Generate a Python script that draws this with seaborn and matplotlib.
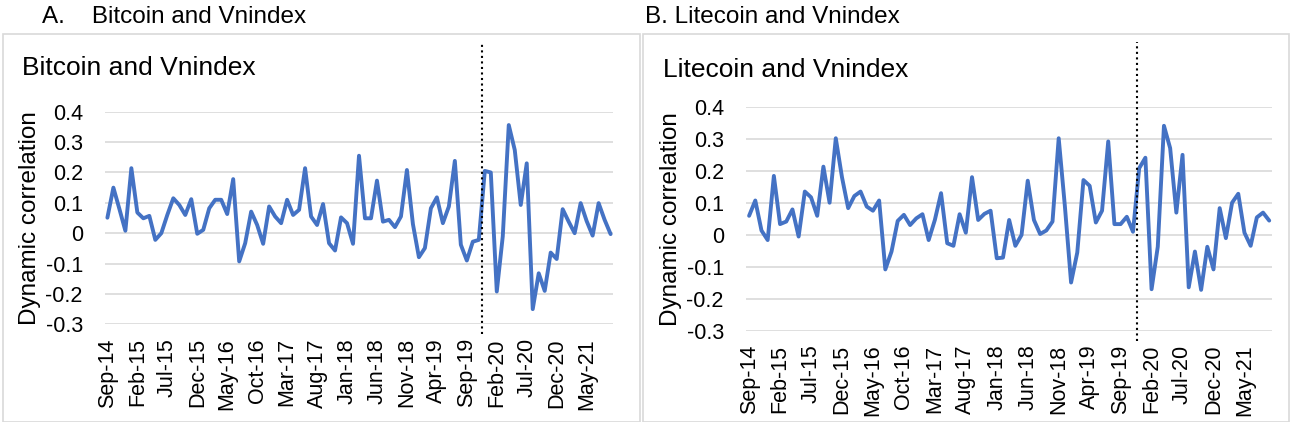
import pandas as pd
import matplotlib.pyplot as plt
import seaborn as sns
from matplotlib.patches import Rectangle

sns.set_theme(style="white")
plt.rcParams['font.family'] = ['Liberation Sans', 'DejaVu Sans']
plt.rcParams.update({"text.color": "black", "axes.labelcolor": "black",
                     "xtick.color": "black", "ytick.color": "black"})

# monthly dynamic correlations, Sep-14 .. Sep-21
btc = [0.051, 0.15, 0.08, 0.008, 0.214, 0.068, 0.049, 0.057, -0.022, 0.0,
       0.06, 0.115, 0.093, 0.06, 0.112, -0.002, 0.011, 0.082, 0.11, 0.11,
       0.063, 0.178, -0.093, -0.033, 0.071, 0.027, -0.035, 0.088, 0.055, 0.033,
       0.11, 0.06, 0.077, 0.214, 0.055, 0.027, 0.096, -0.033, -0.057, 0.052,
       0.033, -0.035, 0.255, 0.049, 0.049, 0.173, 0.038, 0.044, 0.02, 0.055,
       0.208, 0.03, -0.079, -0.049, 0.082, 0.118, 0.033, 0.088, 0.238, -0.038,
       -0.09, -0.028, -0.022, 0.205, 0.2, -0.192, -0.01, 0.356, 0.274, 0.093,
       0.23, -0.25, -0.132, -0.19, -0.064, -0.085, 0.079, 0.038, 0.0, 0.099,
       0.04, -0.008, 0.099, 0.044, -0.003]

ltc = [0.06, 0.108, 0.014, -0.016, 0.185, 0.034, 0.042, 0.08, -0.005, 0.136,
       0.118, 0.06, 0.214, 0.101, 0.303, 0.181, 0.084, 0.122, 0.136, 0.089,
       0.076, 0.108, -0.108, -0.052, 0.044, 0.063, 0.031, 0.052, 0.065, -0.016,
       0.047, 0.131, -0.026, -0.034, 0.065, 0.007, 0.181, 0.047, 0.066, 0.076,
       -0.073, -0.071, 0.047, -0.034, 0.0, 0.17, 0.047, 0.003, 0.014, 0.042,
       0.303, 0.09, -0.149, -0.055, 0.172, 0.154, 0.039, 0.076, 0.293, 0.034,
       0.034, 0.057, 0.01, 0.209, 0.242, -0.17, -0.037, 0.342, 0.272, 0.07,
       0.251, -0.164, -0.052, -0.172, -0.037, -0.108, 0.084, -0.01, 0.101, 0.129,
       0.007, -0.034, 0.055, 0.07, 0.045]

months = pd.date_range("2014-09-01", periods=len(btc), freq="MS").strftime("%b-%y").tolist()
tick_step = 5
break_month = 62.6  # covid break marker (between Nov-19 and Dec-19)
yticks = [-0.3, -0.2, -0.1, 0, 0.1, 0.2, 0.3, 0.4]

panels = [
    ("A.    Bitcoin and Vnindex", "Bitcoin and Vnindex", btc),
    ("B. Litecoin and Vnindex", "Litecoin and Vnindex", ltc),
]

W, H = 1290, 422
fig = plt.figure(figsize=(W / 100, H / 100), dpi=100)

# pixel layout of each panel: axes box, outer frame, heading x, title x
layout = [
    dict(ax=(105, 111.7, 613, 324.3), frame=(3, 34, 640), head_x=42, title_x=22, title_y=68, xlim=(-0.4, 84.4)),
    dict(ax=(746, 107.3, 1271.7, 330.7), frame=(643, 34, 1289), head_x=645, title_x=663, title_y=70, xlim=(-0.5, 84.4)),
]

grid_col = "#d9d9d9"
line_col = "#4472C4"

for (heading, title, vals), lay in zip(panels, layout):
    x0, y0, x1, y1 = lay["ax"]
    ax = fig.add_axes([x0 / W, 1 - y1 / H, (x1 - x0) / W, (y1 - y0) / H])
    df = pd.DataFrame({"t": range(len(vals)), "corr": vals})
    sns.lineplot(data=df, x="t", y="corr", ax=ax, color=line_col, linewidth=2.8)

    ax.set_xlim(*lay["xlim"])
    ax.set_ylim(-0.3, 0.4)
    ax.set_yticks(yticks)
    ax.set_yticklabels(["0" if v == 0 else f"{v:.1f}" for v in yticks], fontsize=15.5)
    ticks = list(range(0, len(vals), tick_step))
    ax.set_xticks(ticks)
    ax.set_xticklabels([months[i] for i in ticks], rotation=90, fontsize=15.5)
    ax.tick_params(axis="both", length=0, pad=10)
    ax.tick_params(axis="y", pad=16)
    ax.yaxis.grid(True, color=grid_col, linewidth=1.2)
    ax.set_axisbelow(True)
    for s in ax.spines.values():
        s.set_visible(False)
    ax.set_xlabel("")
    ax.set_ylabel("Dynamic correlation", fontsize=17.5, labelpad=3)

    # dotted break marker, running up into the title area
    top = (y1 - 42) / (y1 - y0)
    ax.axvline(break_month, ymin=-0.045, ymax=top, color="black", linestyle=":",
               linewidth=1.5, clip_on=False)

    fx0, fy0, fx1 = lay["frame"]
    fig.patches.append(Rectangle((fx0 / W, 0), (fx1 - fx0) / W, 1 - fy0 / H,
                                 transform=fig.transFigure, fill=False,
                                 edgecolor=grid_col, linewidth=1.2))
    fig.text(lay["head_x"] / W, 1 - 17 / H, heading, fontsize=17.5, va="center", ha="left")
    fig.text(lay["title_x"] / W, 1 - lay["title_y"] / H, title, fontsize=19, va="center", ha="left")

plt.savefig("out.png", dpi=100)
